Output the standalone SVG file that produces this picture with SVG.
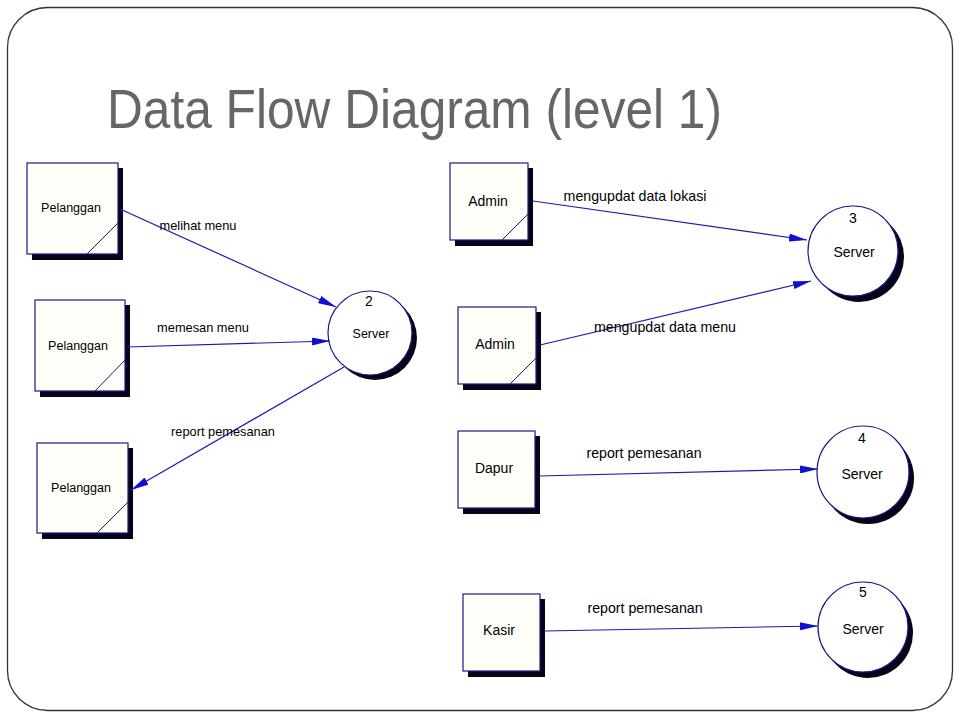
<svg xmlns="http://www.w3.org/2000/svg" width="960" height="720" viewBox="0 0 960 720">
<style>
.frame{fill:#ffffff;stroke:#333333;stroke-width:1.3}
.title{font-family:"Liberation Sans",Arial,sans-serif;font-size:55px;fill:#666666}
.box{fill:#fffffa;stroke:#1a1a80;stroke-width:1.2}
.shadow{fill:#05051a}
.diag{stroke:#1a1a80;stroke-width:1;fill:none}
.circ{fill:#ffffff;stroke:#1a1a80;stroke-width:1.2}
.lbl{font-family:"Liberation Sans",Arial,sans-serif;font-size:12.5px;fill:#000000;text-anchor:middle}
.lbl2{font-family:"Liberation Sans",Arial,sans-serif;font-size:14px;fill:#000000;text-anchor:middle}
.flow{stroke:#1a1ab0;stroke-width:1.2;fill:none;marker-end:url(#ah)}
.flbl{font-family:"Liberation Sans",Arial,sans-serif;font-size:12.8px;fill:#000000;text-anchor:middle}
.flbl2{font-family:"Liberation Sans",Arial,sans-serif;font-size:14.2px;fill:#000000;text-anchor:middle}
</style>
<defs>
<marker id="ah" viewBox="0 0 18 8" refX="18" refY="4" markerWidth="18" markerHeight="8" markerUnits="userSpaceOnUse" orient="auto">
<path d="M0,0 L18,4 L0,8 Z" fill="#1010d0"/>
</marker>
</defs>
<rect class="frame" x="7.5" y="7.5" width="945" height="703" rx="40" ry="40"/>
<text class="title" x="107" y="128" textLength="615" lengthAdjust="spacingAndGlyphs">Data Flow Diagram (level 1)</text>

<g id="pelanggan1">
<rect class="shadow" x="32" y="168" width="91" height="92"/>
<rect class="box" x="27" y="163" width="91" height="91"/>
<line class="diag" x1="87" y1="254" x2="118" y2="223"/>
<text class="lbl" x="71" y="212">Pelanggan</text>
</g>
<g id="pelanggan2">
<rect class="shadow" x="40" y="305" width="90" height="92"/>
<rect class="box" x="35" y="300" width="90" height="91"/>
<line class="diag" x1="95" y1="391" x2="125" y2="360"/>
<text class="lbl" x="78" y="350">Pelanggan</text>
</g>
<g id="pelanggan3">
<rect class="shadow" x="42" y="448" width="91" height="91"/>
<rect class="box" x="37" y="443" width="91" height="90"/>
<line class="diag" x1="97" y1="533" x2="128" y2="502"/>
<text class="lbl" x="81" y="492">Pelanggan</text>
</g>

<g id="admin1">
<rect class="shadow" x="455" y="168" width="78" height="78"/>
<rect class="box" x="450" y="163" width="78" height="77"/>
<line class="diag" x1="502" y1="240" x2="528" y2="214"/>
<text class="lbl2" x="488" y="206">Admin</text>
</g>
<g id="admin2">
<rect class="shadow" x="463" y="312" width="78" height="78"/>
<rect class="box" x="458" y="307" width="78" height="77"/>
<line class="diag" x1="510" y1="384" x2="536" y2="358"/>
<text class="lbl2" x="495" y="349">Admin</text>
</g>
<g id="dapur">
<rect class="shadow" x="463" y="436" width="77" height="78"/>
<rect class="box" x="458" y="431" width="77" height="77"/>
<text class="lbl2" x="494" y="473">Dapur</text>
</g>
<g id="kasir">
<rect class="shadow" x="468" y="599" width="77" height="78"/>
<rect class="box" x="463" y="594" width="77" height="77"/>
<text class="lbl2" x="499" y="635">Kasir</text>
</g>

<g id="server2">
<circle class="shadow" cx="375" cy="338" r="42"/>
<circle class="circ" cx="370" cy="333" r="42"/>
<text class="lbl2" x="369" y="306">2</text>
<text class="lbl" x="371" y="338">Server</text>
</g>
<g id="server3">
<circle class="shadow" cx="859" cy="257" r="45"/>
<circle class="circ" cx="853" cy="251" r="45"/>
<text class="lbl2" x="853" y="223">3</text>
<text class="lbl2" x="854" y="257">Server</text>
</g>
<g id="server4">
<circle class="shadow" cx="868" cy="478" r="46"/>
<circle class="circ" cx="863" cy="472" r="46"/>
<text class="lbl2" x="862" y="443">4</text>
<text class="lbl2" x="862" y="479">Server</text>
</g>
<g id="server5">
<circle class="shadow" cx="868" cy="633" r="45"/>
<circle class="circ" cx="863" cy="627" r="45"/>
<text class="lbl2" x="863" y="597">5</text>
<text class="lbl2" x="863" y="634">Server</text>
</g>

<g id="connectors">
<line class="flow" x1="120" y1="209" x2="336" y2="307"/>
<text class="flbl" x="198" y="230">melihat menu</text>
<line class="flow" x1="127" y1="347" x2="330" y2="341"/>
<text class="flbl" x="203" y="332">memesan menu</text>
<line class="flow" x1="344" y1="367" x2="131" y2="490"/>
<text class="flbl" x="223" y="436">report pemesanan</text>
<line class="flow" x1="533" y1="201" x2="807" y2="240"/>
<text class="flbl2" x="635" y="201">mengupdat data lokasi</text>
<line class="flow" x1="540" y1="345" x2="811" y2="281"/>
<text class="flbl2" x="665" y="332">mengupdat data menu</text>
<line class="flow" x1="539" y1="476" x2="818" y2="469"/>
<text class="flbl2" x="644" y="458">report pemesanan</text>
<line class="flow" x1="544" y1="631" x2="818" y2="626"/>
<text class="flbl2" x="645" y="613">report pemesanan</text>
</g>
</svg>
